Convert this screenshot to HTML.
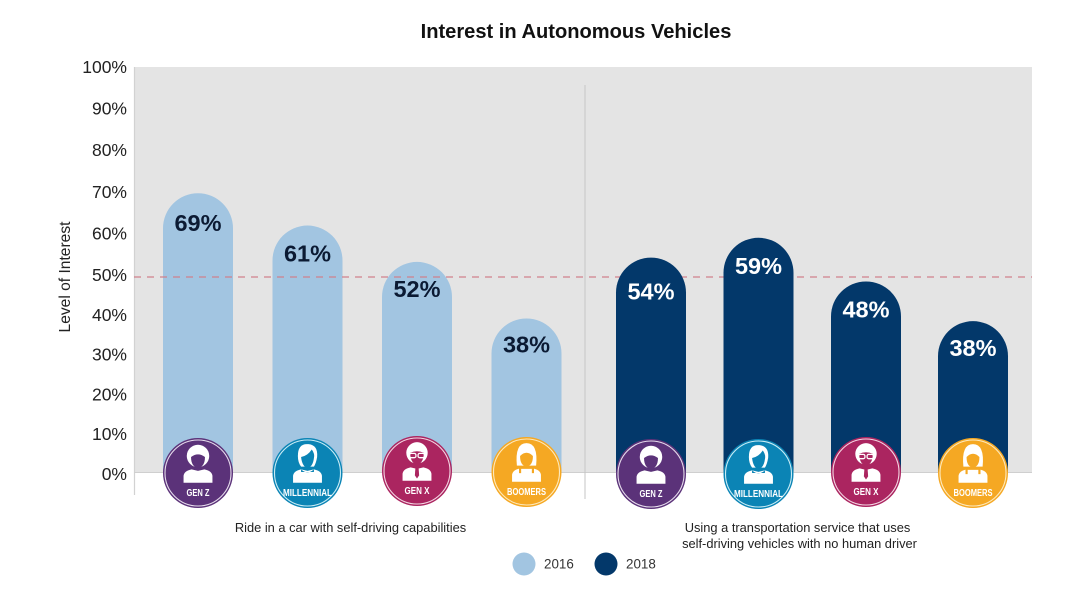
<!DOCTYPE html>
<html lang="en">
<head>
<meta charset="utf-8">
<title>Interest in Autonomous Vehicles</title>
<style>
html,body{margin:0;padding:0;background:#fff;}
body{width:1080px;height:606px;overflow:hidden;}
svg{display:block;font-family:"Liberation Sans",Arial,sans-serif;}
</style>
</head>
<body>
<svg id="chart" xmlns="http://www.w3.org/2000/svg" width="1080" height="606" viewBox="0 0 1080 606">
  <rect width="1080" height="606" fill="#ffffff"/>
  <text x="576" y="38" font-size="20.1" font-weight="700" text-anchor="middle" fill="#111">Interest in Autonomous Vehicles</text>
  <rect x="134" y="67" width="898" height="405" fill="#e4e4e4"/>
  <line x1="134.5" y1="67" x2="134.5" y2="495" stroke="#d2d2d2" stroke-width="1.2"/>
  <line x1="134" y1="472.5" x2="1032" y2="472.5" stroke="#cfcfcf" stroke-width="1"/>
  <line x1="585" y1="85" x2="585" y2="499" stroke="#c6c6c6" stroke-width="1"/>
  <g id="ticks"></g>
  <text transform="translate(70,277) rotate(-90)" font-size="15.6" text-anchor="middle" fill="#222">Level of Interest</text>
  <g id="bars"></g>
  <line x1="134" y1="277" x2="1032" y2="277" stroke="#d0808c" stroke-width="1.3" stroke-dasharray="7 6"/>
  <g id="barsRight"></g>
  <g id="labels"></g>
  <g id="badges"></g>
  <text x="350.5" y="532" font-size="12.85" text-anchor="middle" fill="#222">Ride in a car with self-driving capabilities</text>
  <text x="797.5" y="532" font-size="12.85" text-anchor="middle" fill="#222">Using a transportation service that uses</text>
  <text x="799.5" y="548" font-size="12.85" text-anchor="middle" fill="#222">self-driving vehicles with no human driver</text>
  <circle cx="524" cy="564" r="11.5" fill="#a2c5e1"/>
  <text x="544" y="568.5" font-size="13.4" fill="#333">2016</text>
  <circle cx="606" cy="564" r="11.5" fill="#03386a"/>
  <text x="626" y="568.5" font-size="13.4" fill="#333">2018</text>
</svg>
<script>
const tickValues = [0, 10, 20, 30, 40, 50, 60, 70, 80, 90, 100];
const generations = ["GEN Z", "MILLENNIAL", "GEN X", "BOOMERS"];
const values2016 = [69, 61, 52, 38];
const values2018 = [54, 59, 48, 38];

const NS = "http://www.w3.org/2000/svg";
const BASE = 472;
const BAR_W = 70;
const styles = {
  "GEN Z": {fill: "#5b3279", ring: "#e6dcec", labelW: 23},
  "MILLENNIAL": {fill: "#0b84b5", ring: "#c9ecf5", labelW: 49},
  "GEN X": {fill: "#ab2560", ring: "#f3d5e2", labelW: 25},
  "BOOMERS": {fill: "#f5a823", ring: "#fde9bd", labelW: 39}
};
const panels = [
  {id: "2016", values: values2016, scale: 4.04, centers: [198, 307.5, 417, 526.5], badgeY: [473, 473, 471, 472], labelDy: [38, 36, 35, 34], color: "#a2c5e1", text: "#0b1a33", layer: "bars"},
  {id: "2018", values: values2018, scale: 3.97, centers: [651, 758.5, 866, 973], badgeY: [474, 474, 472, 473], labelDy: [42, 36, 36, 35], color: "#03386a", text: "#ffffff", layer: "barsRight"}
];

function make(tag, attrs, parent) {
  const el = document.createElementNS(NS, tag);
  for (const k in attrs) el.setAttribute(k, attrs[k]);
  parent.appendChild(el);
  return el;
}
function tickY(v) {
  return v >= 50 ? 275 - (v - 50) * 4.16 : 275 + (50 - v) * 3.98;
}

const tickLayer = document.getElementById("ticks");
tickValues.forEach(function (t) {
  const el = make("text", {x: 127, y: tickY(t) + 6, "font-size": 17.5, "text-anchor": "end", fill: "#222"}, tickLayer);
  
  
  el.textContent = t + "%";
});

const labelLayer = document.getElementById("labels");
const badgeLayer = document.getElementById("badges");

panels.forEach(function (p) {
  const barLayer = document.getElementById(p.layer);
  p.values.forEach(function (v, i) {
    const cx = p.centers[i];
    const top = BASE - v * p.scale;
    const r = BAR_W / 2;
    const d = "M" + (cx - r) + " " + BASE + "V" + (top + r) +
      "A" + r + " " + r + " 0 0 1 " + (cx + r) + " " + (top + r) + "V" + BASE + "Z";
    const bar = make("path", {d: d, fill: p.color}, barLayer);
    
    

    const lab = make("text", {x: cx, y: top + p.labelDy[i], "font-size": 23.5, "font-weight": 700, "text-anchor": "middle", fill: p.text}, labelLayer);
    
    
    lab.textContent = v + "%";

    drawBadge(cx, p.badgeY[i], generations[i]);
  });
});

function drawBadge(cx, cy, name) {
  const s = styles[name];
  const g = make("g", {transform: "translate(" + cx + "," + cy + ")"}, badgeLayer);
  
  
  make("circle", {r: 35, fill: s.fill}, g);
  make("circle", {r: 33, fill: "none", stroke: s.ring, "stroke-width": 1.1}, g);
  const ic = make("g", {transform: "translate(0,-1) scale(1.07)"}, g);
  // body
  make("path", {d: "M-13.5 10V3.5Q-13 -1 -6 -2.5L0 -1L6 -2.5Q13 -1 13.5 3.5V10Z", fill: "#fff"}, ic);
  // head and hair
  if (name === "GEN Z") {
    make("circle", {cx: 0, cy: -15, r: 10.5, fill: "#fff"}, ic);
    make("path", {d: "M-6.5 -14Q0 -19 6.5 -14Q6.5 -5 0 -3.5Q-6.5 -5 -6.5 -14Z", fill: s.fill}, ic);
  } else if (name === "MILLENNIAL") {
    make("path", {d: "M-9 -15Q-9 -27 1 -26Q10 -25 9 -14Q8 -8 6 -5H-6Q-9 -9 -9 -15Z", fill: "#fff"}, ic);
    make("path", {d: "M-6 -14Q0 -15 4 -21Q7 -17 6 -13Q5 -5 0 -3.5Q-5 -5 -6 -14Z", fill: s.fill}, ic);
    make("path", {d: "M-6 -2.5Q0 3 6 -2.5V0H-6Z", fill: s.fill}, ic);
  } else if (name === "GEN X") {
    make("circle", {cx: 0, cy: -16, r: 10, fill: "#fff"}, ic);
    make("path", {d: "M-6.5 -16Q0 -19 6.5 -16Q6 -6 0 -5Q-6 -6 -6.5 -16Z", fill: s.fill}, ic);
    make("rect", {x: -7, y: -15.5, width: 6, height: 4, rx: 1.5, fill: "none", stroke: "#fff", "stroke-width": 1.2}, ic);
    make("rect", {x: 1, y: -15.5, width: 6, height: 4, rx: 1.5, fill: "none", stroke: "#fff", "stroke-width": 1.2}, ic);
    make("path", {d: "M-1.5 -2H1.5L2 5L0 8L-2 5Z", fill: s.fill}, ic);
  } else {
    make("path", {d: "M-9 -5Q-11 -26 0 -26Q11 -26 9 -5Z", fill: "#fff"}, ic);
    make("path", {d: "M-6 -14Q0 -20 6 -14Q6 -5 0 -4Q-6 -5 -6 -14Z", fill: s.fill}, ic);
    make("path", {d: "M-7 -3H7V2H-7Z", fill: s.fill}, ic);
    make("path", {d: "M-5 -2H5V3H-5Z", fill: "#fff"}, ic);
  }
  const t = make("text", {x: 0, y: 23, "font-size": 10.5, "font-weight": 700, "text-anchor": "middle", fill: "#fff", textLength: s.labelW, lengthAdjust: "spacingAndGlyphs"}, g);
  
  
  t.textContent = name;
}
</script>
</body>
</html>
